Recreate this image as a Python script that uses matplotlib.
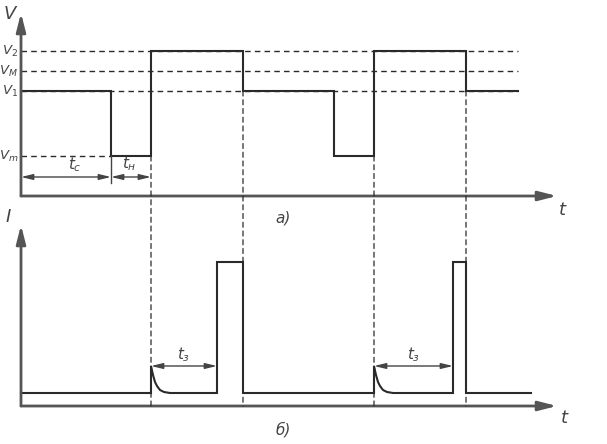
import matplotlib
matplotlib.use("Agg")
import matplotlib.pyplot as plt
from matplotlib.patches import ConnectionPatch

# time axis units (0 = origin of both axes)
t_end = 536

# top: voltage steps V(t)
v_levels = {"V2": 145, "VM": 125, "V1": 105, "Vm": 40}
v_labels = ["$V_2$", "$V_M$", "$V_1$", "$V_m$"]
v_times = [0, 90, 90, 130, 130, 222, 222, 313, 313, 353, 353, 445, 445, 497]
v_values = [105, 105, 40, 40, 145, 145, 105, 105, 40, 40, 145, 145, 105, 105]
v_dash_end = 497

# bottom: current I(t)
i_times = [0, 130, 130, 132, 134, 136, 139, 143, 149, 196, 196, 222, 222,
           353, 353, 355, 357, 359, 362, 366, 372, 432, 432, 445, 445, 510]
i_values = [13, 13, 40, 31, 24, 20, 16, 14, 13, 13, 144, 144, 13,
            13, 40, 31, 24, 20, 16, 14, 13, 13, 144, 144, 13, 13]

# vertical guide lines: (time, level in top panel where they start)
guides = [(130, 40), (222, 105), (353, 40), (445, 105)]

ink = "#2a2a2a"
axis_col = "#555555"
txt_col = "#444444"

plt.rcParams["mathtext.fontset"] = "dejavusans"
plt.rcParams["mathtext.default"] = "it"

fig = plt.figure(figsize=(6.07, 4.44), dpi=100)
ax1 = fig.add_axes([0, 0.5, 1, 0.5])
ax2 = fig.add_axes([0, 0, 1, 0.5])
ax1.set_xlim(-21, 586)
ax1.set_ylim(-26, 196)
ax2.set_xlim(-21, 586)
ax2.set_ylim(-38, 184)
for ax in (ax1, ax2):
    ax.axis("off")
    ax.patch.set_alpha(0)

axis_arrow = dict(arrowstyle="-|>,head_length=0.55,head_width=0.14",
                  color=axis_col, lw=2, mutation_scale=20, shrinkA=0, shrinkB=0)
dim_arrow = dict(arrowstyle="<|-|>,head_length=0.5,head_width=0.12",
                 color=txt_col, lw=1, mutation_scale=14, shrinkA=0, shrinkB=0)

# --- top panel ---
ax1.annotate("", xy=(t_end, 0), xytext=(0, 0), arrowprops=axis_arrow)
ax1.annotate("", xy=(0, 183), xytext=(0, 0), arrowprops=axis_arrow)
for lvl in ("V2", "VM", "V1"):
    ax1.plot([0, v_dash_end], [v_levels[lvl]] * 2, ls=(0, (4, 3)), color=ink, lw=1)
ax1.plot([0, 90], [v_levels["Vm"]] * 2, ls=(0, (4, 3)), color=ink, lw=1)
ax1.plot(v_times, v_values, color=ink, lw=1.5, solid_joinstyle="miter")
for lab, lvl in zip(v_labels, ("V2", "VM", "V1", "Vm")):
    ax1.text(-3, v_levels[lvl], lab, ha="right", va="center", fontsize=9.5, color=txt_col)
ax1.text(-10, 182, "$V$", ha="center", va="center", fontsize=13, color=txt_col)
ax1.text(537, -14, "$t$", ha="left", va="center", fontsize=13, color=txt_col)
ax1.text(262, -22, "а)", ha="center", va="center", fontsize=11, color=txt_col, style="italic")

# dimension arrows t_c, t_H
ax1.plot([90, 90], [40, 13], color=txt_col, lw=1)
ax1.annotate("", xy=(0, 19), xytext=(90, 19), arrowprops=dim_arrow)
ax1.annotate("", xy=(90, 19), xytext=(130, 19), arrowprops=dim_arrow)
ax1.text(54, 31, "$t_с$", ha="center", va="center", fontsize=11, color=txt_col)
ax1.text(108, 32, "$t_н$", ha="center", va="center", fontsize=11, color=txt_col)

# --- bottom panel ---
ax2.annotate("", xy=(t_end, 0), xytext=(0, 0), arrowprops=axis_arrow)
ax2.annotate("", xy=(0, 181), xytext=(0, 0), arrowprops=axis_arrow)
ax2.plot(i_times, i_values, color=ink, lw=1.5, solid_joinstyle="miter")
ax2.text(-13, 189, "$I$", ha="center", va="center", fontsize=13, color=txt_col)
ax2.text(539, -12, "$t$", ha="left", va="center", fontsize=13, color=txt_col)
ax2.text(262, -24, "б)", ha="center", va="center", fontsize=11, color=txt_col, style="italic")

for t0, t1 in ((130, 196), (353, 432)):
    ax2.annotate("", xy=(t0, 40), xytext=(t1, 40), arrowprops=dim_arrow)
    ax2.text((t0 + t1) / 2, 51, "$t_з$", ha="center", va="center", fontsize=11, color=txt_col)

# guide lines running from the top signal down to the bottom time axis
for t, lvl in guides:
    con = ConnectionPatch(xyA=(t, lvl), coordsA=ax1.transData, xyB=(t, 0),
                          coordsB=ax2.transData, ls=(0, (4, 3)), color=ink, lw=0.9)
    fig.add_artist(con)

fig.savefig("out.png", dpi=100)
